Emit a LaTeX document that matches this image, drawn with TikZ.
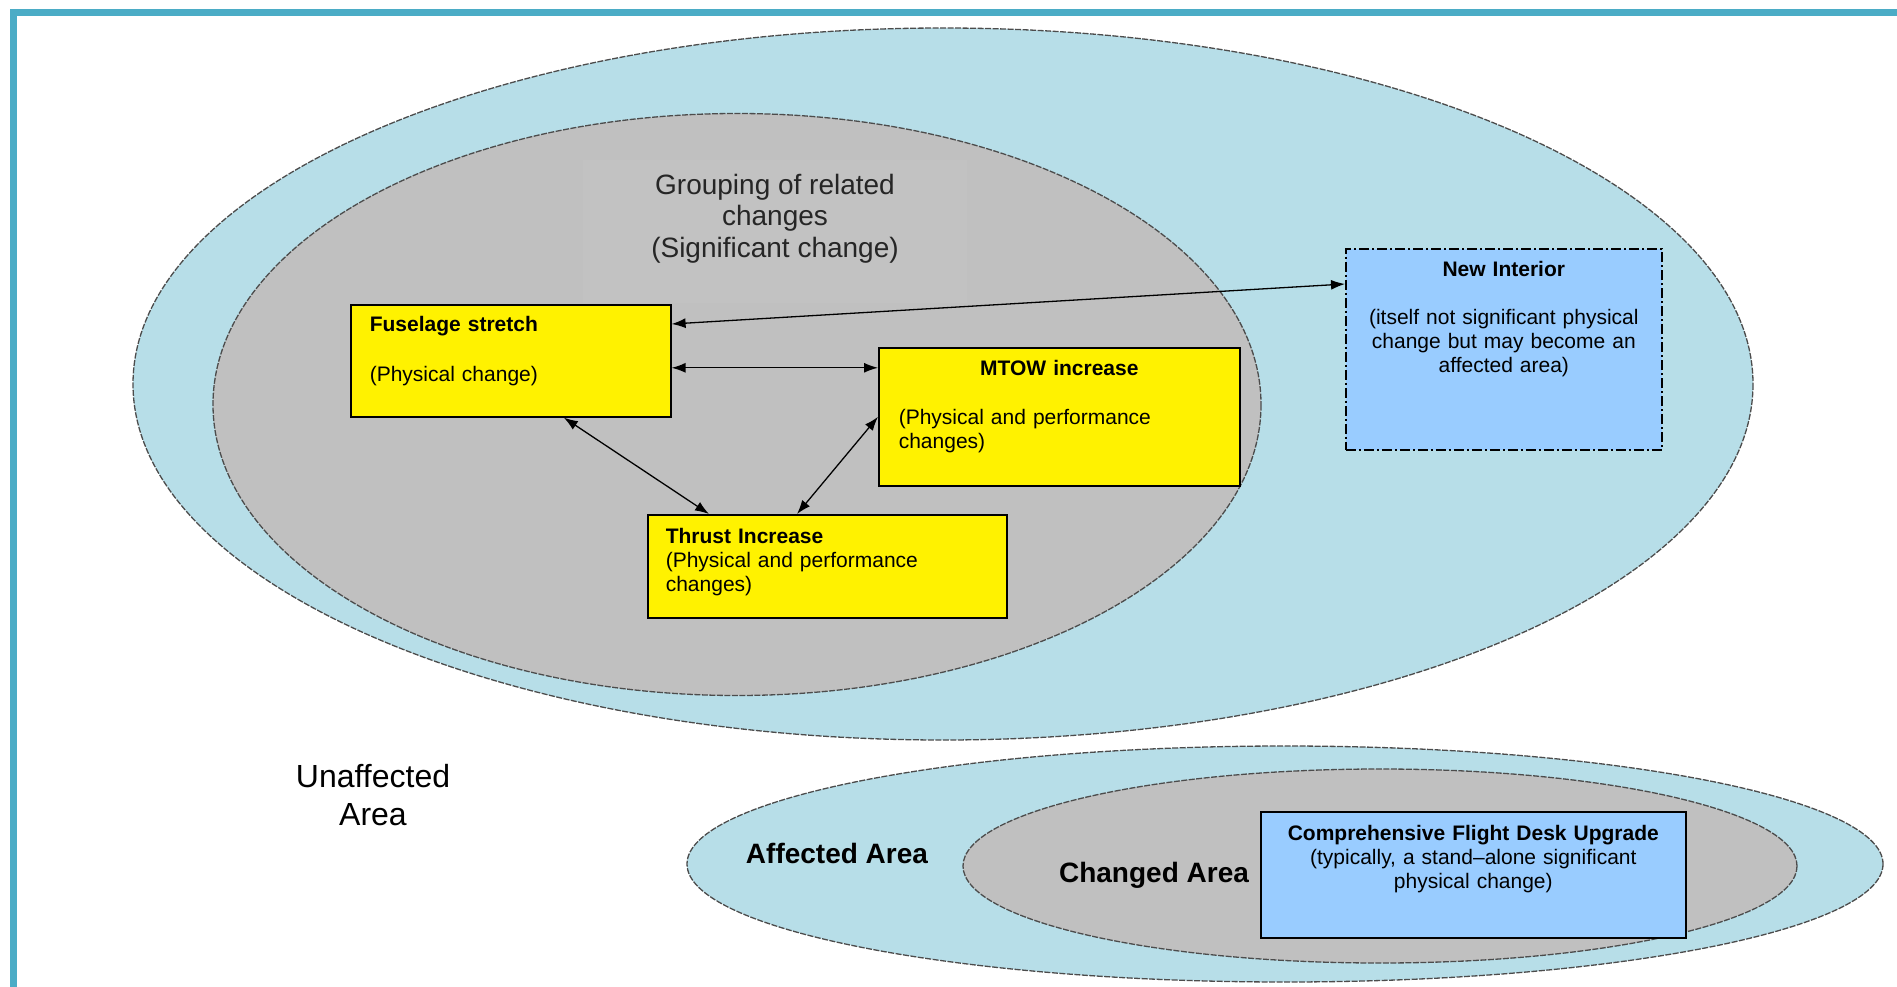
\documentclass[tikz,border=0pt]{standalone}
\usepackage{fontspec}
\setmainfont{Liberation Sans}
\usetikzlibrary{arrows.meta}
\definecolor{framecol}{RGB}{75,172,198}
\definecolor{areablue}{RGB}{183,222,232}
\definecolor{areagray}{RGB}{192,192,192}
\definecolor{groupgray}{RGB}{194,194,194}
\definecolor{boxblue}{RGB}{153,204,255}
\begin{document}
\begin{tikzpicture}[x=1pt, y=-1pt, >={Latex[length=14pt,width=10pt]},
    area/.style={draw=black!70, line width=1.3pt, dash pattern=on 6pt off 1.5pt},
    change/.style={draw, line width=1.6pt, fill=yellow, anchor=north west, inner sep=0pt, align=left, font=\fontsize{21}{24}\selectfont},
    upgrade/.style={change, fill=boxblue, align=center},
    link/.style={<->, line width=1.3pt},
    big/.style={font=\fontsize{28}{31.5}\selectfont}]
    \useasboundingbox (0,0) rectangle (1897,987);
    \clip (0,0) rectangle (1897,987);
    \draw[framecol, line width=7pt] (13,13) rectangle (1930,1020);
    \draw[area, fill=areablue] (943,384) ellipse [x radius=810, y radius=356];
    \draw[area, fill=areagray] (737,404.5) ellipse [x radius=524, y radius=291];
    \node[fill=groupgray, minimum width=384pt, minimum height=143pt, align=center, big, text=black!85] (group) at (775,231.5) {Grouping of related\\changes\\(Significant change)\\\mbox{}};
    \node[change, minimum width=320pt, minimum height=112pt, text width=282pt, inner xsep=19pt] (fuse) at (350,304) {\textbf{Fuselage stretch}\\[26pt](Physical change)\\\mbox{}};
    \node[change, minimum width=361pt, minimum height=138pt, text width=321pt, inner xsep=20pt] (mtow) at (878,347) {\makebox[321pt]{\textbf{MTOW increase}}\\[25pt](Physical and performance\\changes)\\\mbox{}};
    \node[change, minimum width=359pt, minimum height=103pt, text width=323pt, inner xsep=18pt] (thrust) at (647,514) {\textbf{Thrust Increase}\\(Physical and performance\\changes)\\[-12pt]\mbox{}};
    \node[upgrade, dash pattern=on 10pt off 3pt on 2pt off 3pt, minimum width=316pt, minimum height=201pt, text width=296pt, inner xsep=10pt] (newint) at (1345,248) {\textbf{New Interior}\\[24pt](itself not significant physical\\change but may become an\\affected area)\\[40pt]\mbox{}};
    \draw[link] ([yshift=-7pt]fuse.east) -- ([yshift=-7pt]fuse.east -| mtow.west);
    \draw[link] ([xshift=53pt]fuse.south) -- ([xshift=62pt]thrust.north west);
    \draw[link] ([xshift=150pt]thrust.north west) -- (mtow.west);
    \draw[link] ([yshift=-20pt]fuse.north east) -- ([yshift=-36pt]newint.north west);
    \draw[area, fill=areablue] (1285,864) ellipse [x radius=598, y radius=118];
    \draw[area, fill=areagray] (1380,866) ellipse [x radius=417, y radius=97];
    \node[upgrade, minimum width=425pt, minimum height=126pt, text width=405pt, inner xsep=10pt] (deck) at (1260,811) {\textbf{Comprehensive Flight Desk Upgrade}\\(typically, a stand--alone significant\\physical change)\\[12pt]\mbox{}};
    \node[font=\fontsize{32}{38}\selectfont, align=center] (unaffected) at (373,795) {Unaffected\\Area};
    \node[font=\fontsize{28}{31.5}\selectfont\bfseries] (affected) at (837,853) {Affected Area};
    \node[font=\fontsize{28}{31.5}\selectfont\bfseries] (changed) at (1154,875) {Changed Area};
\end{tikzpicture}
\end{document}
